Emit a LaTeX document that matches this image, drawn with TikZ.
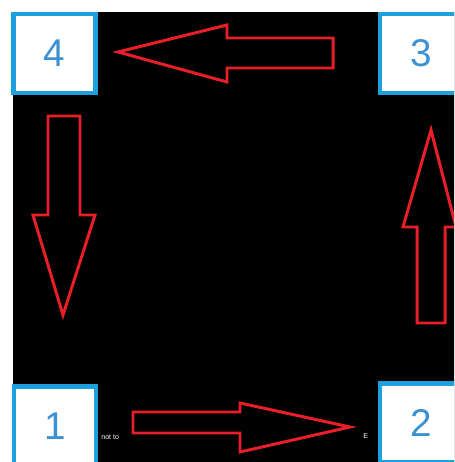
\documentclass[tikz,border=0pt]{standalone}
\usepackage{fontspec}
\setmainfont{Liberation Sans}
\definecolor{boxblue}{RGB}{30,160,222}
\definecolor{numblue}{RGB}{60,145,210}
\definecolor{arrowred}{RGB}{232,30,40}
\tikzset{
      stepbox/.style={
        draw=boxblue,
        line width=2.4pt,
        fill=white,
        minimum width=1.64cm,
        minimum height=1.58cm,
        inner sep=0pt,
        text=numblue,
        font=\fontsize{22}{22}\selectfont
      },
      blockarrow/.style={
        draw=arrowred,
        line width=1.7pt,
        line join=miter
      },
      smalltext/.style={
        text=white,
        font=\fontsize{4}{5}\selectfont,
        inner sep=0pt,
        anchor=west
      }
    }
\begin{document}
\begin{tikzpicture}[x=0.02cm,y=-0.02cm]
    \useasboundingbox (0,0) rectangle (454,462);
    \clip (0,0) rectangle (454,462);
    \fill[black] (13,12) rectangle (470,470);
    % the four corners
    \node[stepbox] (n4) at (54.5,53.5) {4};
    \node[stepbox] (n3) at (421,53.5) {3};
    \node[stepbox] (n1) at (55,426) {1};
    \node[stepbox] (n2) at (421,423) {2};
    % scraps of text
    \node[smalltext] (t1) at (101,437) {not to};
    \node[smalltext] (t2) at (363,436) {E};
    % block arrows
    \draw[blockarrow] (333,38) -- (227,38) -- (227,25) -- (118,52) -- (227,82) -- (227,68) -- (333,68) -- cycle;
    \draw[blockarrow] (48,116) -- (80,116) -- (80,215) -- (95,215) -- (63,315) -- (33,215) -- (48,215) -- cycle;
    \draw[blockarrow] (417,323) -- (445,323) -- (445,227) -- (456,227) -- (431,130) -- (403,227) -- (417,227) -- cycle;
    \draw[blockarrow] (133,412) -- (240,412) -- (240,403) -- (350,427) -- (240,452) -- (240,433) -- (133,433) -- cycle;
    \end{tikzpicture}
\end{document}
